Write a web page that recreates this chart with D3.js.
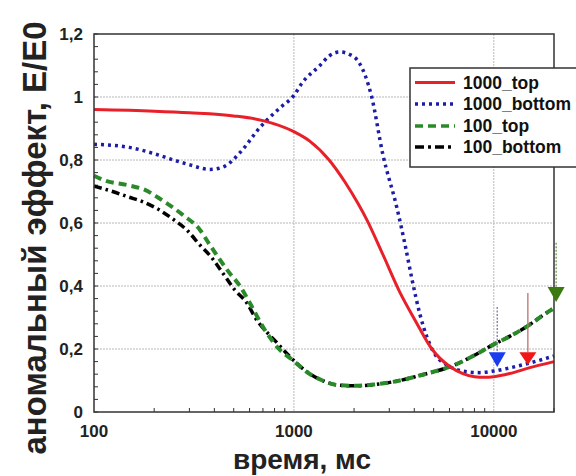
<!DOCTYPE html>
<html><head><meta charset="utf-8">
<script src="https://cdn.jsdelivr.net/npm/d3@7"></script>
<style>html,body{margin:0;padding:0;background:#fff;}svg{display:block;font-family:"Liberation Sans",Arial,sans-serif;}</style>
</head><body>
<svg id="c" width="576" height="476"></svg>
<script>
// ---- data ----
const seriesNames = ["1000_top","1000_bottom","100_top","100_bottom"];
const t1000top = [100,200,300,500,700,1000,1200,1500,1800,2100,2317,2786,3390,4050,4900,6000,7000,8000,9000,10000,12000,15000,20000];
const v1000top = [0.96,0.955,0.95,0.94,0.925,0.89,0.86,0.80,0.73,0.66,0.61,0.50,0.38,0.29,0.20,0.145,0.122,0.112,0.11,0.112,0.122,0.14,0.16];
const t1000bot = [100,150,200,250,300,380,450,540,680,850,1000,1100,1350,1500,1700,1900,2130,2450,2780,3270,3600,3900,4270,5000,6000,7000,8500,10000,12000,15000,20000];
const v1000bot = [0.85,0.84,0.82,0.80,0.785,0.77,0.78,0.825,0.905,0.965,1.005,1.045,1.10,1.13,1.143,1.135,1.107,1.0,0.82,0.65,0.53,0.42,0.31,0.19,0.145,0.13,0.125,0.13,0.14,0.155,0.178];
const t100top = [100,113,148,180,210,279,339,380,478,537,603,716,851,985,1160,1390,1630,2000,2500,3390,4500,6000,8000,9870,12000,14500,18600,20000];
const v100top = [0.75,0.735,0.72,0.705,0.68,0.625,0.578,0.53,0.44,0.40,0.345,0.26,0.197,0.165,0.127,0.10,0.086,0.083,0.087,0.10,0.12,0.143,0.18,0.213,0.24,0.27,0.317,0.33];
const t100bot = [100,124,148,176,214,245,291,339,388,442,507,583,640,822,985,1160,1390,1630,2000,2500,3390,4500,6000,8000,9870,12000,14500,18600,19500];
const v100bot = [0.717,0.70,0.683,0.667,0.64,0.615,0.578,0.53,0.49,0.44,0.387,0.345,0.30,0.22,0.167,0.128,0.10,0.086,0.083,0.087,0.10,0.12,0.143,0.18,0.213,0.24,0.27,0.317,0.325];
// arrows: x, shaft top, triangle top, triangle tip
const arrowX   = [10400, 14800, 20500];
const arrowTop = [0.333, 0.378, 0.537];
const arrowTri = [0.19, 0.19, 0.397];
const arrowTip = [0.143, 0.149, 0.349];
const yTicks = [0,0.2,0.4,0.6,0.8,1,1.2];
const yTickLabels = ["0","0,2","0,4","0,6","0,8","1","1,2"];
const xTicks = [100,1000,10000];
const xTickLabels = ["100","1000","10000"];

// ---- styles ----
const colors = ["#e8202a","#1c1ca6","#2a8a2a","#000000"];
const dashes = [null,"3,4","8,5","8,4,2.5,4"];
const widths = [3,3.5,4,3.5];
const arrowColors = ["#1a3cf0","#f01818","#3a7a10"];
const shaftColors = ["#7a7a9a","#c07070","#6a9a50"];
const shaftDash = ["2,1.5",null,"2,1.5"];

const svg = d3.select("#c");
const L=94,R=554,T=34,B=412;
const x = d3.scaleLog().domain([100,20000]).range([L,R]);
const y = d3.scaleLinear().domain([0,1.2]).range([B,T]);

// grid
const g = svg.append("g");
g.selectAll(".gy").data(yTicks.filter(d=>d>0&&d<1.2)).enter().append("line")
 .attr("x1",L).attr("x2",R).attr("y1",d=>y(d)).attr("y2",d=>y(d))
 .attr("stroke","#b8b8b8").attr("stroke-width",1).attr("stroke-dasharray","2,1");
g.selectAll(".gx").data([1000,10000]).enter().append("line")
 .attr("y1",T).attr("y2",B).attr("x1",d=>x(d)).attr("x2",d=>x(d))
 .attr("stroke","#b8b8b8").attr("stroke-width",1).attr("stroke-dasharray","2,1");

// minor ticks
const yMinor = d3.range(0,1.2001,0.04);
g.selectAll(".my").data(yMinor).enter().append("line")
 .attr("x1",L).attr("x2",L+4).attr("y1",d=>y(d)).attr("y2",d=>y(d))
 .attr("stroke","#333").attr("stroke-width",1);
const xMinor = [];
[100,1000,10000].forEach(b=>{for(let k=2;k<=9;k++){const v=b*k; if(v<=20000) xMinor.push(v);}});
g.selectAll(".mx").data(xMinor).enter().append("line")
 .attr("x1",d=>x(d)).attr("x2",d=>x(d)).attr("y1",B).attr("y2",B-4)
 .attr("stroke","#333").attr("stroke-width",1);

// axes labels
svg.selectAll(".yl").data(yTicks).enter().append("text")
 .attr("x",83).attr("y",d=>y(d)+6).attr("text-anchor","end")
 .attr("font-size",17).attr("font-weight","bold").attr("fill","#222")
 .text((d,i)=>yTickLabels[i]);
svg.selectAll(".xl").data(xTicks).enter().append("text")
 .attr("x",d=>x(d)).attr("y",437).attr("text-anchor","middle")
 .attr("font-size",17).attr("font-weight","bold").attr("fill","#222")
 .text((d,i)=>xTickLabels[i]);
svg.append("text").attr("x",302).attr("y",469).attr("text-anchor","middle")
 .attr("font-size",28).attr("font-weight","bold").attr("fill","#222").text("время, мс");
svg.append("text").attr("transform","translate(46,238) rotate(-90)").attr("text-anchor","middle")
 .attr("font-size",33).attr("font-weight","bold").attr("fill","#222").text("аномальный эффект, E/E0");

// lines
const line = d3.line().x(d=>x(d[0])).y(d=>y(d[1])).curve(d3.curveMonotoneX);
const sets = [[t1000top,v1000top],[t1000bot,v1000bot],[t100top,v100top],[t100bot,v100bot]];
const order = [3,2,1,0];
order.forEach(i=>{
  const pts = sets[i][0].map((t,j)=>[t,sets[i][1][j]]);
  svg.append("path").attr("d",line(pts)).attr("fill","none")
   .attr("stroke",colors[i]).attr("stroke-width",widths[i])
   .attr("stroke-dasharray",dashes[i]);
});

// frame
svg.append("rect").attr("x",L).attr("y",T).attr("width",R-L).attr("height",B-T)
 .attr("fill","none").attr("stroke","#333").attr("stroke-width",1.5);

// arrows
arrowX.forEach((ax,i)=>{
  const cx = x(ax);
  svg.append("line").attr("x1",cx).attr("x2",cx).attr("y1",y(arrowTop[i])).attr("y2",y(arrowTri[i]))
   .attr("stroke",shaftColors[i]).attr("stroke-width",1.3).attr("stroke-dasharray",shaftDash[i]);
  svg.append("path").attr("d",`M${cx-8.5},${y(arrowTri[i])}L${cx+8.5},${y(arrowTri[i])}L${cx},${y(arrowTip[i])}Z`)
   .attr("fill",arrowColors[i]);
});

// legend
const lg = svg.append("g");
lg.append("rect").attr("x",410).attr("y",68).attr("width",180).attr("height",99)
 .attr("fill","#fff").attr("stroke","#333").attr("stroke-width",1.5);
const rowY = [82.5,104,126,147];
seriesNames.forEach((n,i)=>{
  lg.append("line").attr("x1",415).attr("x2",455).attr("y1",rowY[i]).attr("y2",rowY[i])
   .attr("stroke",colors[i]).attr("stroke-width",i==0?3:3.5).attr("stroke-dasharray",i==3?"9,4,3,4":dashes[i]);
  lg.append("text").attr("x",463).attr("y",rowY[i]+6).attr("font-size",17.5).attr("font-weight","bold")
   .attr("fill","#111").text(n);
});
</script>
</body></html>
